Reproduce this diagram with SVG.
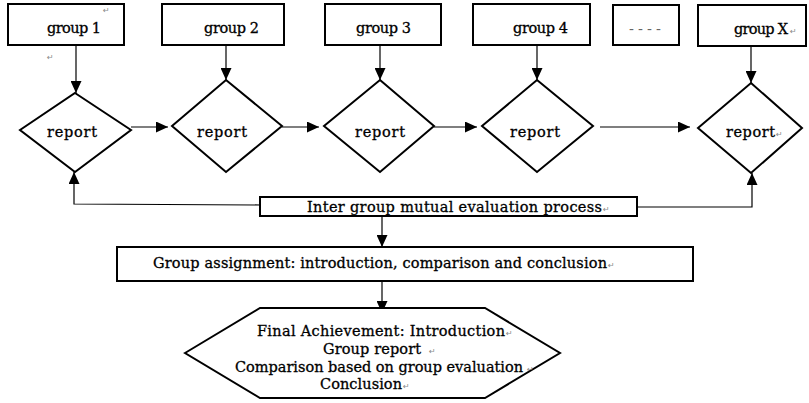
<svg xmlns="http://www.w3.org/2000/svg" width="809" height="403" viewBox="0 0 809 403">
<style>
.box{fill:#fff;stroke:#000;stroke-width:2}
.con{fill:none;stroke:#000;stroke-width:1.2}
.t{font-family:"DejaVu Serif","Liberation Serif",serif;font-size:14.5px;fill:#000;stroke:#000;stroke-width:0.3}
.m{font-family:"DejaVu Sans",sans-serif;font-size:8px;fill:#888}
</style>
<defs>
<marker id="ah" markerUnits="userSpaceOnUse" markerWidth="12" markerHeight="11" refX="12" refY="5.5" orient="auto">
<path d="M0,0 L12,5.5 L0,11 z" fill="#000"/>
</marker>
</defs>
<rect width="809" height="403" fill="#fff"/>
<g id="connectors">
<line class="con" x1="76" y1="45" x2="76" y2="93" marker-end="url(#ah)"/>
<line class="con" x1="226" y1="45" x2="226" y2="80" marker-end="url(#ah)"/>
<line class="con" x1="380" y1="45" x2="380" y2="80" marker-end="url(#ah)"/>
<line class="con" x1="537" y1="45" x2="537" y2="80" marker-end="url(#ah)"/>
<line class="con" x1="751" y1="46" x2="751" y2="83" marker-end="url(#ah)"/>
<line class="con" x1="131" y1="127" x2="168" y2="127" marker-end="url(#ah)"/>
<line class="con" x1="282" y1="127" x2="319" y2="127" marker-end="url(#ah)"/>
<line class="con" x1="434" y1="127" x2="477" y2="127" marker-end="url(#ah)"/>
<line class="con" x1="600" y1="127" x2="690" y2="127" marker-end="url(#ah)"/>
<polyline class="con" points="260,205 74,204 74,172" marker-end="url(#ah)"/>
<polyline class="con" points="637,207 752,207 752,173" marker-end="url(#ah)"/>
<line class="con" x1="382" y1="216" x2="382" y2="247" marker-end="url(#ah)"/>
<line class="con" x1="382" y1="281" x2="382" y2="313" marker-end="url(#ah)"/>
</g>
<g id="group1"><rect class="box" x="8" y="4" width="116" height="41"/><text class="t" x="47" y="33" textLength="54">group 1</text><text class="m" x="103" y="13">↵</text><text class="m" x="47" y="60">↵</text></g>
<g id="group2"><rect class="box" x="162" y="4" width="122" height="41"/><text class="t" x="204" y="33" textLength="55">group 2</text></g>
<g id="group3"><rect class="box" x="325" y="4" width="116" height="41"/><text class="t" x="356" y="33" textLength="55">group 3</text></g>
<g id="group4"><rect class="box" x="473" y="4" width="117" height="41"/><text class="t" x="513" y="33" textLength="55">group 4</text></g>
<g id="groupDots"><rect class="box" x="613" y="5" width="66" height="40"/><text class="t" x="629" y="34" textLength="32" style="fill:#666;stroke:none">----</text></g>
<g id="groupX"><rect class="box" x="698" y="5" width="108" height="41"/><text class="t" x="734" y="34" textLength="54">group X</text><text class="m" x="790" y="34">↵</text></g>
<g id="report1"><polygon class="box" points="75,93 131,130 75,172 20,130"/><text class="t" x="47" y="137" textLength="50">report</text></g>
<g id="report2"><polygon class="box" points="226,80 282,126 226,172 172,126"/><text class="t" x="197" y="137" textLength="50">report</text></g>
<g id="report3"><polygon class="box" points="380,80 434,126 380,172 324,126"/><text class="t" x="355" y="137" textLength="50">report</text></g>
<g id="report4"><polygon class="box" points="537,80 593,126 537,172 482,126"/><text class="t" x="510" y="137" textLength="50">report</text></g>
<g id="reportX"><polygon class="box" points="751,83 802,128 751,173 698,128"/><text class="t" x="726" y="137" textLength="49">report</text><text class="m" x="776" y="137">↵</text></g>
<g id="inter"><rect class="box" x="260" y="197" width="377" height="19"/><text class="t" x="307" y="212" textLength="295">Inter group mutual evaluation process</text><text class="m" x="603" y="212">↵</text></g>
<g id="assign"><rect class="box" x="117" y="247" width="576" height="34"/><text class="t" x="153" y="268" textLength="454">Group assignment: introduction, comparison and conclusion</text><text class="m" x="608" y="268">↵</text></g>
<g id="final"><polygon class="box" points="185,353 260,308 485,308 560,353 485,398 260,398"/>
<text class="t" x="257" y="336" textLength="248">Final Achievement: Introduction</text><text class="m" x="506" y="336">↵</text>
<text class="t" x="323" y="354" textLength="98">Group report</text><text class="m" x="429" y="354">↵</text>
<text class="t" x="235" y="372" textLength="288">Comparison based on group evaluation</text><text class="m" x="527" y="372">↵</text>
<text class="t" x="320" y="389" textLength="82">Conclusion</text><text class="m" x="403" y="389">↵</text>
</g>
</svg>
